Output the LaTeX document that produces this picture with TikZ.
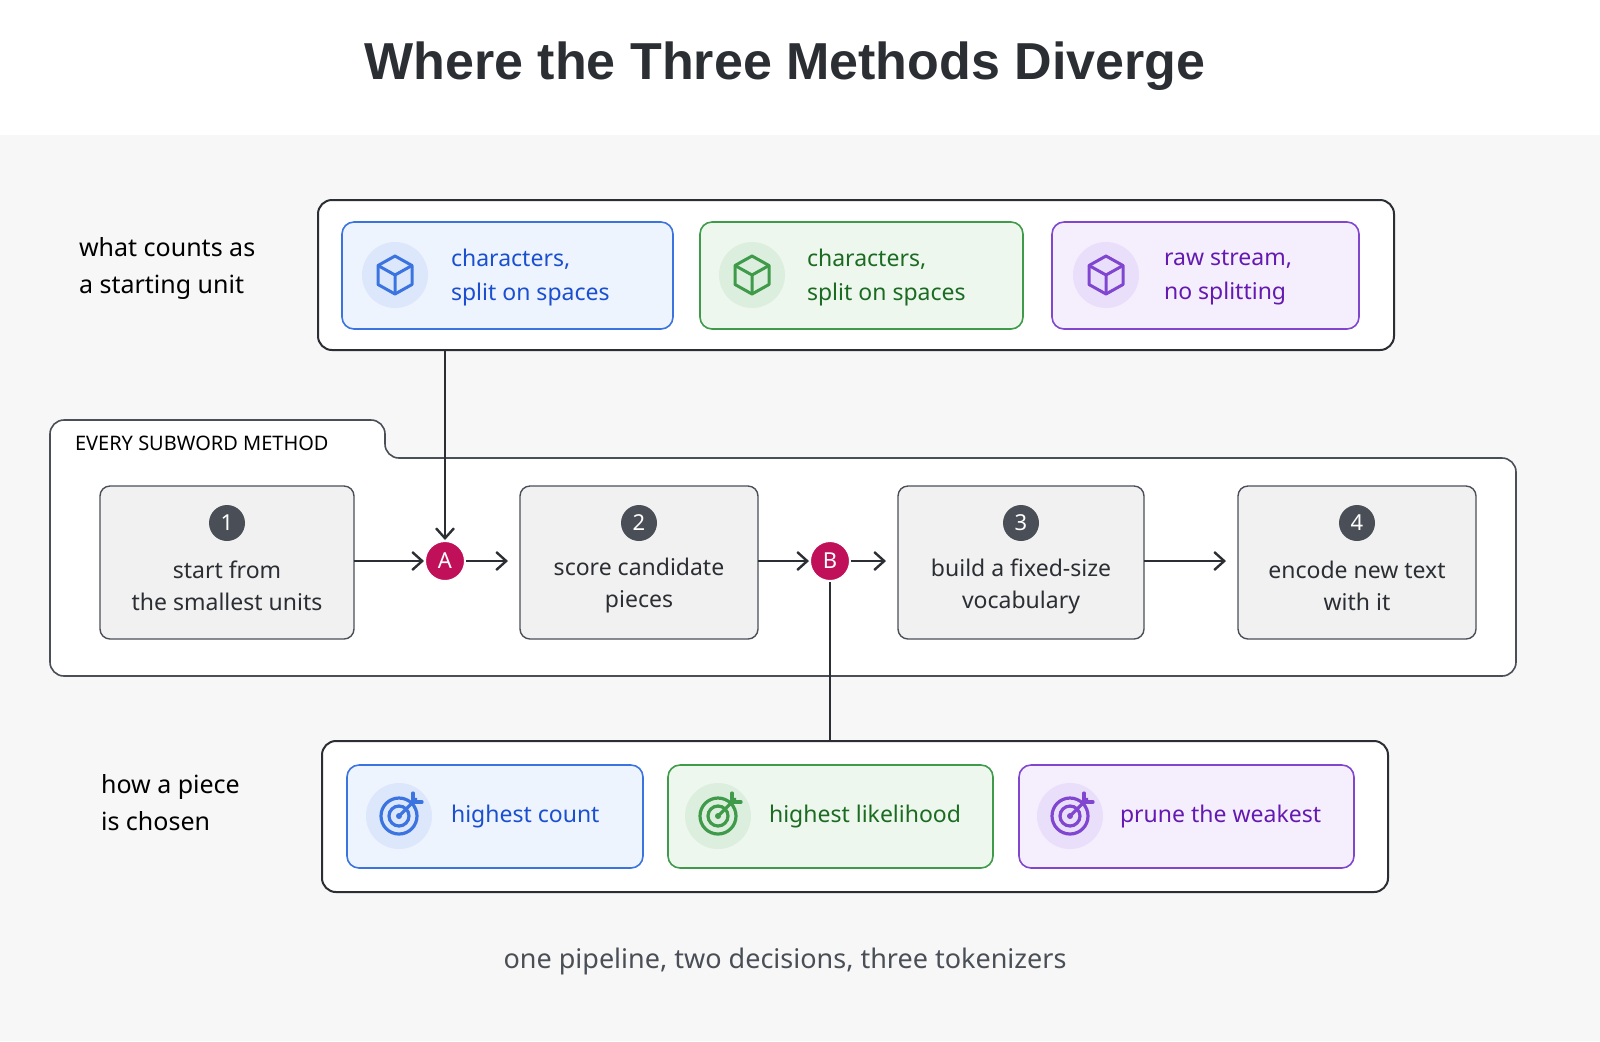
\documentclass[tikz,border=0pt]{standalone}
\usepackage{fontspec}
\setmainfont{Noto Sans}
\newfontfamily\titlefont{Liberation Sans}
\usetikzlibrary{arrows.meta}

\definecolor{bluetxt}{HTML}{1A4FD0}
\definecolor{bluefill}{HTML}{EEF4FE}
\definecolor{blueline}{HTML}{3B74E0}
\definecolor{blueicon}{HTML}{DCE7FB}
\definecolor{greentxt}{HTML}{1B6B22}
\definecolor{greenfill}{HTML}{EEF7EE}
\definecolor{greenline}{HTML}{3F9A4A}
\definecolor{greenicon}{HTML}{DCEEDD}
\definecolor{purpletxt}{HTML}{6419B0}
\definecolor{purplefill}{HTML}{F5EFFD}
\definecolor{purpleline}{HTML}{8046D0}
\definecolor{purpleicon}{HTML}{EADFFA}
\definecolor{inkdark}{HTML}{2B2E33}
\definecolor{stepgray}{HTML}{F1F1F1}
\definecolor{numgray}{HTML}{4A4F57}
\definecolor{markred}{HTML}{C0105A}

\tikzset{
  container/.style={draw=inkdark, line width=1pt, rounded corners=7pt},
  choice/.style={draw=#1line, fill=#1fill, line width=0.8pt, rounded corners=6pt},
  stepbox/.style={draw=numgray, fill=stepgray, line width=0.7pt, rounded corners=5pt},
  numdot/.style={circle, fill=numgray, text=white, minimum size=18pt, inner sep=0pt, font=\bfseries\fontsize{11}{12}\selectfont},
  marker/.style={circle, fill=markred, draw=white, line width=1pt, text=white, minimum size=20pt, inner sep=0pt, font=\bfseries\fontsize{11}{12}\selectfont},
  steptext/.style={align=center, text=inkdark, font=\fontsize{11.5}{16}\selectfont},
  choicetext/.style={anchor=west, align=left, text=#1txt, font=\fontsize{11.5}{17}\selectfont},
  sidetext/.style={anchor=west, align=left, text=black, font=\fontsize{12.5}{18.5}\selectfont},
  flow/.style={-{Straight Barb[length=5pt,width=9pt]}, draw=inkdark, line width=1.2pt},
  link/.style={draw=inkdark, line width=1.2pt}
}

% cube icon: #1 centre, #2 colour family
\newcommand\cubeicon[2]{%
  \fill[#2icon] #1 circle (33);
  \begin{scope}[shift={#1}, draw=#2line, line width=1.5pt, line join=round]
    \draw (0,-19) -- (17,-9.5) -- (17,9.5) -- (0,19) -- (-17,9.5) -- (-17,-9.5) -- cycle;
    \draw (-17,-9.5) -- (0,0) -- (17,-9.5) (0,0) -- (0,19);
  \end{scope}}
% target icon
\newcommand\targeticon[2]{%
  \fill[#2icon] #1 circle (33);
  \begin{scope}[shift={#1}, draw=#2line, line width=1.6pt, line cap=round]
    \draw (0,0) circle (18) (0,0) circle (10);
    \fill[#2line] (0,0) circle (3);
    \draw (0,0) -- (17,-17);
    \draw (14,-23) -- (14,-14) -- (23,-14);
  \end{scope}}

\begin{document}
\begin{tikzpicture}[x=0.5pt, y=-0.5pt]
  \useasboundingbox (0,0) rectangle (1600,1041);
  \fill[white] (0,0) rectangle (1600,1041);
  \fill[black!3] (0,135) rectangle (1600,1041);

  \node[font=\titlefont\bfseries\fontsize{26}{30}\selectfont, text=inkdark] (title) at (785,66) {Where the Three Methods Diverge};

  % starting units
  \node[sidetext] (unitlbl) at (72,268) {what counts as\\a starting unit};
  \draw[container, fill=white] (318,200) rectangle (1394,350);
  \coordinate (unittap) at (445,350);
  \draw[choice=blue] (342,222) rectangle (673,329);
  \draw[choice=green] (700,222) rectangle (1023,329);
  \draw[choice=purple] (1052,222) rectangle (1359,329);
  \cubeicon{(395,275)}{blue}
  \cubeicon{(752,275)}{green}
  \cubeicon{(1106,275)}{purple}
  \node[choicetext=blue] (unitbpe) at (444,278) {characters,\\split on spaces};
  \node[choicetext=green] (unitwp) at (800,278) {characters,\\split on spaces};
  \node[choicetext=purple] (unitsp) at (1157,278) {raw stream,\\no splitting};

  % pipeline
  \draw[container, draw=numgray, line width=0.8pt, fill=white]
    (50,676) -- (50,420) -- (385,420) -- (385,458) -- (1516,458) -- (1516,676) -- cycle;
  \node[anchor=west, font=\fontsize{10}{12}\selectfont, text=black] (pipelbl) at (68,443) {EVERY SUBWORD METHOD};

  \draw[stepbox] (100,486) rectangle (354,639);
  \draw[stepbox] (520,486) rectangle (758,639);
  \draw[stepbox] (898,486) rectangle (1144,639);
  \draw[stepbox] (1238,486) rectangle (1476,639);
  \coordinate (s1) at (354,561);  \coordinate (s2in) at (520,561);
  \coordinate (s2) at (758,561);  \coordinate (s3in) at (898,561);
  \coordinate (s3) at (1144,561); \coordinate (s4in) at (1238,561);

  \node[numdot] (n1) at (227,523) {1};
  \node[numdot] (n2) at (639,523) {2};
  \node[numdot] (n3) at (1021,523) {3};
  \node[numdot] (n4) at (1357,523) {4};
  \node[steptext] (t1) at (227,586) {start from\\the smallest units};
  \node[steptext] (t2) at (639,586) {score candidate\\pieces};
  \node[steptext] (t3) at (1021,586) {build a fixed-size\\vocabulary};
  \node[steptext] (t4) at (1357,586) {encode new text\\with it};

  \node[marker] (mA) at (445,561) {A};
  \node[marker] (mB) at (830,561) {B};

  \draw[flow] (s1) -- (mA);
  \draw[flow] (mA) -- ([xshift=-6]s2in);
  \draw[flow] (s2) -- (mB);
  \draw[flow] (mB) -- ([xshift=-6]s3in);
  \draw[flow] (s3) -- ([xshift=-6]s4in);
  \draw[flow] (unittap) -- (mA);

  % piece choice
  \node[sidetext] (choicelbl) at (94,803) {how a piece\\is chosen};
  \draw[container, fill=white] (322,741) rectangle (1388,892);
  \coordinate (choicetap) at (830,741);
  \draw[link] (mB) -- (choicetap);
  \draw[choice=blue] (347,765) rectangle (643,868);
  \draw[choice=green] (668,765) rectangle (993,868);
  \draw[choice=purple] (1019,765) rectangle (1354,868);
  \targeticon{(399,816)}{blue}
  \targeticon{(718,816)}{green}
  \targeticon{(1070,816)}{purple}
  \node[choicetext=blue] (pickbpe) at (444,816) {highest count};
  \node[choicetext=green] (pickwp) at (762,816) {highest likelihood};
  \node[choicetext=purple] (picksp) at (1113,816) {prune the weakest};

  \node[font=\fontsize{13.5}{16}\selectfont, text=numgray] (caption) at (785,961) {one pipeline, two decisions, three tokenizers};
\end{tikzpicture}
\end{document}
